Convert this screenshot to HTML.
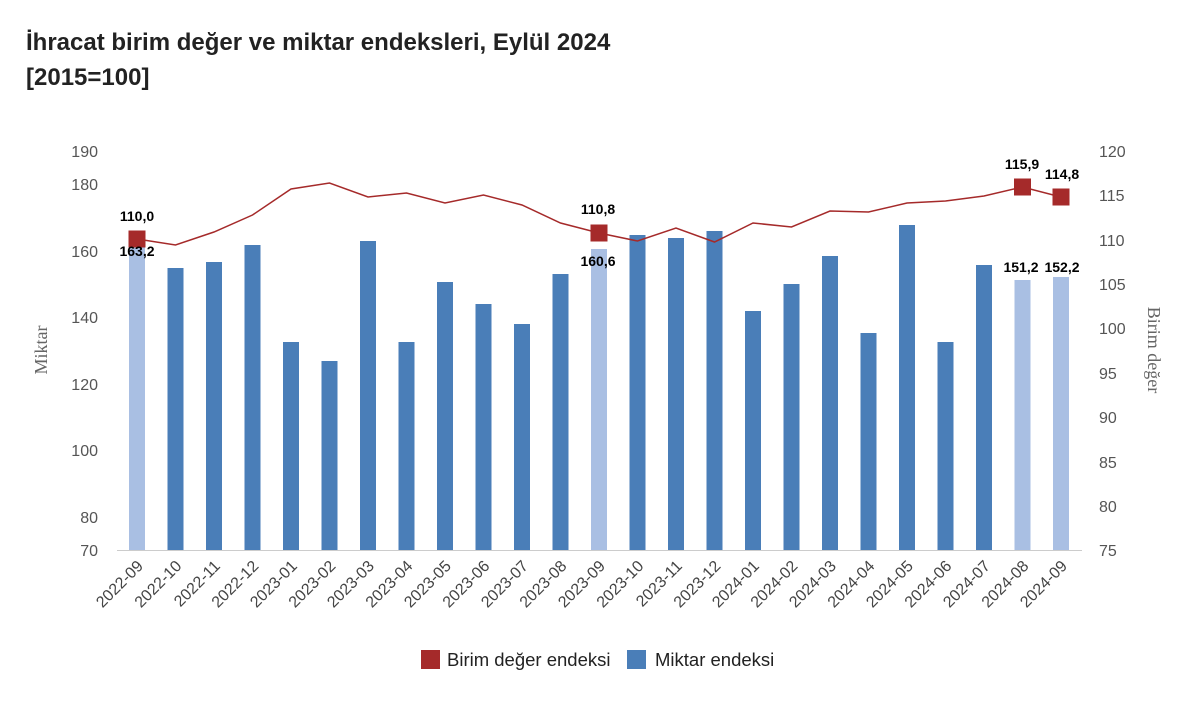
<!DOCTYPE html>
<html><head><meta charset="utf-8"><style>
body{margin:0;background:#fff;}
svg{display:block;font-family:"Liberation Sans",Arial,sans-serif;}
</style></head><body>
<svg width="1200" height="706" viewBox="0 0 1200 706" xmlns="http://www.w3.org/2000/svg">
<text x="26" y="50" font-size="24" font-weight="bold" fill="#222">İhracat birim değer ve miktar endeksleri, Eylül 2024</text>
<text x="26" y="85" font-size="24" font-weight="bold" fill="#222">[2015=100]</text>
<g font-size="16" fill="#555" text-anchor="end">
<text x="98" y="157">190</text><text x="98" y="190">180</text><text x="98" y="257">160</text><text x="98" y="323">140</text><text x="98" y="390">120</text><text x="98" y="456">100</text><text x="98" y="523">80</text><text x="98" y="556">70</text>
</g>
<g font-size="16" fill="#555" text-anchor="start">
<text x="1099" y="157">120</text><text x="1099" y="201">115</text><text x="1099" y="246">110</text><text x="1099" y="290">105</text><text x="1099" y="334">100</text><text x="1099" y="379">95</text><text x="1099" y="423">90</text><text x="1099" y="468">85</text><text x="1099" y="512">80</text><text x="1099" y="556">75</text>
</g>
<text transform="translate(47,350) rotate(-90)" font-family="Liberation Serif,serif" font-size="18" fill="#666" text-anchor="middle">Miktar</text>
<text transform="translate(1148,350) rotate(90)" font-family="Liberation Serif,serif" font-size="18" fill="#666" text-anchor="middle">Birim değer</text>
<line x1="117" y1="550.5" x2="1082" y2="550.5" stroke="#ccc"/>
<g id="bars"></g>
<g id="line"></g>
<g id="xl"></g>
<g font-size="14" font-weight="bold" fill="#000" text-anchor="middle">
<text x="137" y="221">110,0</text><text x="137" y="256">163,2</text>
<text x="598" y="214">110,8</text><text x="598" y="266">160,6</text>
<text x="1022" y="169">115,9</text><text x="1062" y="179">114,8</text>
<text x="1021" y="272">151,2</text><text x="1062" y="272">152,2</text>
</g>
<rect x="421" y="650" width="19" height="19" fill="#a52a2a"/>
<text x="447" y="666" font-size="18.5" fill="#222">Birim değer endeksi</text>
<rect x="627" y="650" width="19" height="19" fill="#4a7eb8"/>
<text x="655" y="666" font-size="18.5" fill="#222">Miktar endeksi</text>
</svg>
<script>
const L=["2022-09","2022-10","2022-11","2022-12","2023-01","2023-02","2023-03","2023-04","2023-05","2023-06","2023-07","2023-08","2023-09","2023-10","2023-11","2023-12","2024-01","2024-02","2024-03","2024-04","2024-05","2024-06","2024-07","2024-08","2024-09"];
const tops=[240,268,262,245,342,361,241,342,282,304,324,274,249,235,238,231,311,284,256,333,225,342,265,280,277];
const ly=[239,245,232,215,189,183,197,193,203,195,205,223,233,241,228,242,223,227,211,212,203,201,196,187,197];
const light=[0,12,23,24];
const ns="http://www.w3.org/2000/svg";
const n=L.length, x0=137, dx=(1061-137)/(n-1);
let b=document.getElementById('bars'),g=document.getElementById('line'),xl=document.getElementById('xl');
let pts=[];
for(let i=0;i<n;i++){
 const x=x0+i*dx;
 const r=document.createElementNS(ns,'rect');
 r.setAttribute('x',x-8);r.setAttribute('y',tops[i]);r.setAttribute('width',16);r.setAttribute('height',550-tops[i]);
 r.setAttribute('fill',light.includes(i)?'#a9bfe3':'#4a7eb8');b.appendChild(r);
 pts.push(x+','+ly[i]);
 const t=document.createElementNS(ns,'text');
 t.setAttribute('transform',`translate(${x+7},567) rotate(-45)`);t.setAttribute('text-anchor','end');
 t.setAttribute('font-size','16');t.setAttribute('fill','#444');t.textContent=L[i];xl.appendChild(t);
}
const p=document.createElementNS(ns,'polyline');
p.setAttribute('points',pts.join(' '));p.setAttribute('fill','none');p.setAttribute('stroke','#a52a2a');p.setAttribute('stroke-width','1.5');g.appendChild(p);
for(const i of light){const x=x0+i*dx;const r=document.createElementNS(ns,'rect');r.setAttribute('x',x-8.5);r.setAttribute('y',ly[i]-8.5);r.setAttribute('width',17);r.setAttribute('height',17);r.setAttribute('fill','#a52a2a');g.appendChild(r);}
</script>
</body></html>
